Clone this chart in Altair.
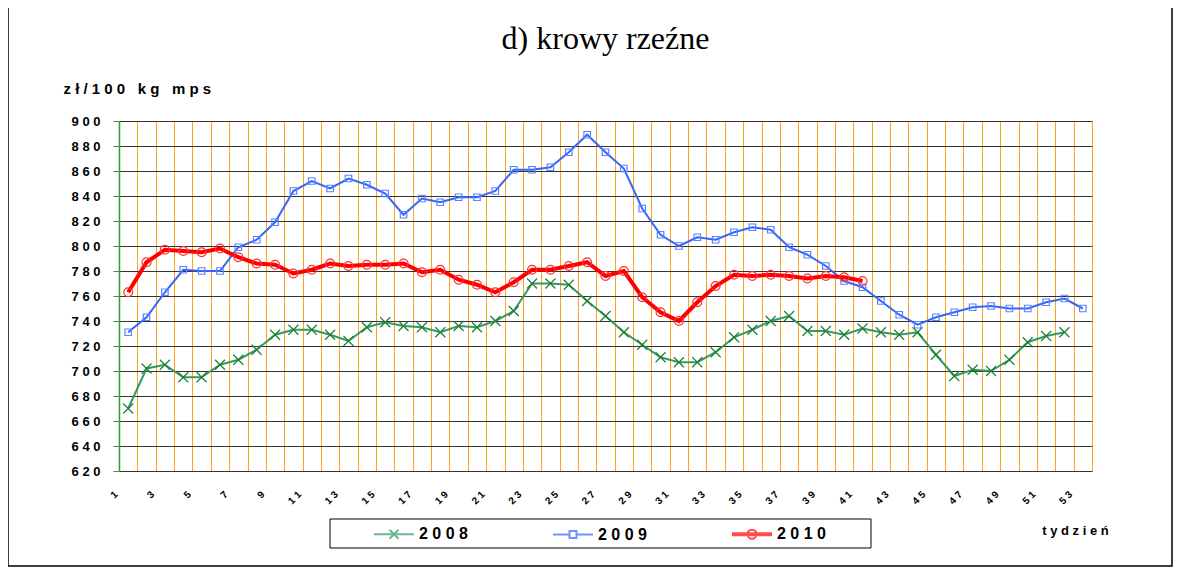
import altair as alt
import pandas as pd

NB = "\u00a0"

weeks = list(range(1, 54))
years = ["2008", "2009", "2010"]

y2008 = [670, 702, 705, 695, 695, 705, 709, 717, 729, 733,
         733, 729, 724, 735, 739, 736, 735, 731, 736, 735,
         740, 748, 770, 770, 769, 756, 744, 731, 721, 711,
         707, 707, 715, 727, 733, 740, 744, 732, 732, 729,
         734, 731, 729, 731, 713, 696, 701, 700, 709, 723,
         728, 731]
y2009 = [731, 743, 763, 781, 780, 780, 799, 805, 819, 844,
         852, 846, 854, 849, 842, 825, 838, 835, 839, 839,
         844, 861, 861, 863, 875, 889, 875, 862, 830, 809,
         800, 807, 805, 811, 815, 813, 799, 793, 784, 772,
         767, 756, 745, 737, 743, 747, 751, 752, 750, 750,
         755, 758, 750]
y2010 = [763, 787, 797, 796, 795, 798, 791, 786, 785, 778,
         781, 786, 784, 785, 785, 786, 779, 781, 773, 769,
         763, 771, 781, 781, 784, 787, 776, 780, 759, 747,
         740, 755, 768, 777, 776, 777, 776, 774, 776, 775,
         772]
series = [y2008, y2009, y2010]

y_ticks = list(range(620, 901, 20))

line_colors = ["#339966", "#3366FF", "#FF0000"]
marker_colors = ["#1F7F2F", "#5A82FF", "#FF3030"]
line_widths = [2, 2, 4]
marker_shapes = ["M-1,-1L1,1M-1,1L1,-1", "square", "circle"]
marker_sizes = [100, 42, 80]

legend_paths = [
    "M-3.333,0H3.333M-0.75,-0.75L0.75,0.75M-0.75,0.75L0.75,-0.75",
    "M-3.333,0H-0.583M0.583,0H3.333M-0.583,-0.583H0.583V0.583H-0.583Z",
    "M-3.333,-0.17H3.333M-3.333,0.17H3.333M0.75,0A0.75,0.75 0 1,1 -0.75,0A0.75,0.75 0 1,1 0.75,0Z",
]

FONT = "Liberation Sans"

x_scale = alt.Scale(type="band", domain=weeks, paddingInner=0, paddingOuter=0)
y_scale = alt.Scale(domain=[620, 900], nice=False, zero=False)

x_axis = alt.Axis(
    title=NB.join("tydzień"),
    titleX=956, titleY=59, titleAlign="center", titleBaseline="middle",
    titleFont=FONT, titleFontSize=13, titleFontWeight="bold", titleColor="black",
    labelAngle=-45,
    labelExpr=f"datum.value % 2 == 1 ? join(split(datum.label, ''), '{NB}') : ''",
    labelFont=FONT, labelFontSize=10, labelFontWeight="bold", labelColor="black",
    labelPadding=18, labelOffset=-16, labelOverlap=False,
    ticks=False, tickSize=0, domain=False,
    grid=True, gridColor="#FFA31A", gridWidth=1, tickBand="extent",
)
y_axis = alt.Axis(
    values=y_ticks,
    title=NB.join("zł/100") + NB * 3 + NB.join("kg") + NB * 3 + NB.join("mps"),
    titleAngle=0, titleX=-56, titleY=-33, titleAlign="left", titleBaseline="middle",
    titleFont=FONT, titleFontSize=15, titleFontWeight="bold", titleColor="black",
    labelExpr=f"join(split(datum.label, ''), '{NB}')",
    labelFont=FONT, labelFontSize=13, labelFontWeight="bold", labelColor="black",
    labelPadding=13,
    domainColor="#339933", domainWidth=1.5,
    tickColor="#339933", tickSize=6, tickWidth=1,
    grid=True, gridColor="#333333", gridWidth=1,
)

layers = []
for yr, vals, lc, mc, lw, sh, sz in zip(years, series, line_colors, marker_colors,
                                        line_widths, marker_shapes, marker_sizes):
    d = pd.DataFrame({"tydzien": weeks[:len(vals)], "cena": vals, "rok": yr})
    base = alt.Chart(d).encode(
        x=alt.X("tydzien:O", scale=x_scale, bandPosition=0.5, axis=x_axis),
        y=alt.Y("cena:Q", scale=y_scale, axis=y_axis),
    )
    layers.append(base.mark_line(color=lc, strokeWidth=lw))
    layers.append(base.mark_point(shape=sh, size=sz, color=mc, filled=False, strokeWidth=1.2, opacity=1))

legend_props = dict(
    orient="none", legendX=267, legendY=405, direction="horizontal",
    title=None, padding=0,
    symbolSize=144, symbolStrokeWidth=2, symbolFillColor="transparent",
    labelFont=FONT, labelFontSize=16, labelFontWeight="bold", labelColor="black",
    labelOffset=17, columnPadding=81,
    labelExpr=f"join(split(datum.label, ''), '{NB}') + '{NB * 9}'",
)

# legend box
legend_box = alt.Chart(pd.DataFrame({"a": [0]})).mark_rect(
    fill="white", stroke="black", strokeWidth=1
).encode(x=alt.value(211), x2=alt.value(752), y=alt.value(398), y2=alt.value(427))

# legend layer (no marks drawn, only drives the legend)
legend_df = pd.DataFrame({"rok": years, "tydzien": [1, 1, 1], "cena": [700, 700, 700]})
legend_layer = alt.Chart(legend_df).transform_filter("false").mark_point(filled=False).encode(
    x=alt.X("tydzien:O", scale=x_scale, bandPosition=0.5, axis=x_axis),
    y=alt.Y("cena:Q", scale=y_scale, axis=y_axis),
    color=alt.Color("rok:N", scale=alt.Scale(domain=years, range=line_colors),
                    legend=alt.Legend(**legend_props)),
    shape=alt.Shape("rok:N", scale=alt.Scale(domain=years, range=legend_paths),
                    legend=alt.Legend(**legend_props)),
)

frame = alt.Chart(pd.DataFrame({"a": [0]})).mark_rect(
    fill="transparent", stroke="black", strokeWidth=1.5
).encode(x=alt.value(-111), x2=alt.value(1053), y=alt.value(-116), y2=alt.value(445))

chart = alt.layer(*layers, legend_box, legend_layer, frame).resolve_scale(
    color="independent", shape="independent"
).properties(
    width=973, height=350,
    title=alt.TitleParams("d) krowy rzeźne", font="Liberation Serif", fontSize=32,
                          fontWeight="normal", color="black", anchor="middle",
                          baseline="alphabetic", offset=0, dy=77),
    autosize=alt.AutoSizeParams(type="none"),
    padding={"left": 111, "top": 113, "right": 81, "bottom": 97},
).configure_view(stroke="#8c8c8c", strokeWidth=1.5).configure(background="white")

chart.save("out.html", embed_options={"renderer": "svg", "actions": False})
